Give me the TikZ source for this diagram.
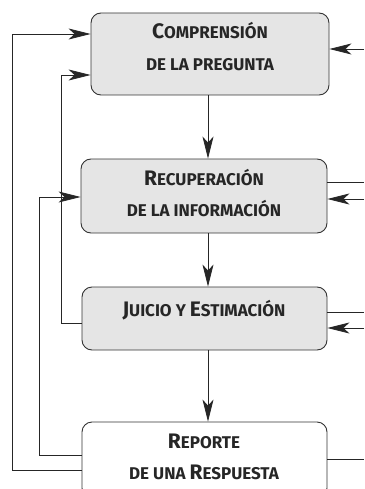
\documentclass[tikz,border=0pt]{standalone}
\usepackage{fontspec}
\setmainfont{Fira Sans}
\usetikzlibrary{arrows.meta}
\newcommand{\bigC}[1]{{\fontsize{21}{21}\selectfont #1}}
\newcommand{\smC}[1]{{\fontsize{17}{17}\selectfont #1}}
\begin{document}
\begin{tikzpicture}[x=1pt,y=-1pt,
  box/.style={draw=black!80, line width=0.9pt, rounded corners=10pt, inner sep=0pt},
  conn/.style={draw=black!85, line width=0.8pt},
  arr/.style={conn, -{Stealth[length=22pt,width=11pt,inset=6pt]}},
  lbl/.style={anchor=base, font=\bfseries, text=black!85, inner sep=0pt}]
\useasboundingbox (0,0) rectangle (364,489);
\begin{scope}
\clip (0,0) rectangle (364,489);
% boxes
\node[box, fill=black!10, minimum width=238pt, minimum height=82pt] (b1) at (210,54) {};
\node[box, fill=black!10, minimum width=246pt, minimum height=74pt] (b2) at (204,196) {};
\node[box, fill=black!10, minimum width=245pt, minimum height=63pt] (b3) at (204.5,318.5) {};
\node[box, fill=white, minimum width=245pt, minimum height=76pt] (b4) at (204.5,460) {};
% labels
\node[lbl] (t1a) at (210,39) {\bigC{C}\smC{OMPRENSIÓN}};
\node[lbl] (t1b) at (210,71) {\smC{DE LA PREGUNTA}};
\node[lbl] (t2a) at (204,185) {\bigC{R}\smC{ECUPERACIÓN}};
\node[lbl] (t2b) at (204,216) {\smC{DE LA INFORMACIÓN}};
\node[lbl] (t3a) at (204,316) {\bigC{J}\smC{UICIO Y }\bigC{E}\smC{STIMACIÓN}};
\node[lbl] (t4a) at (204,448) {\bigC{R}\smC{EPORTE}};
\node[lbl] (t4b) at (204,479) {\smC{DE UNA }\bigC{R}\smC{ESPUESTA}};
% free-end coordinates
\coordinate (v) at (208,0);
\coordinate (r1) at (364,49);
\coordinate (r2o) at (364,182);
\coordinate (r2i) at (364,199);
\coordinate (r3o) at (364,312);
\coordinate (r3i) at (364,328);
\coordinate (r4o) at (364,459);
% vertical arrows
\draw[arr] (b1.south -| v) -- (b2.north -| v);
\draw[arr] (b2.south -| v) -- (b3.north -| v);
\draw[arr] (b3.south -| v) -- (b4.north -| v);
% left feedback loops
\draw[arr] ([yshift=-10pt]b4.west) -- ++(-69,0) |- ([yshift=20pt]b1.west);
\draw[arr] ([yshift=5pt]b4.west) -- ++(-42,0) |- ([yshift=-1pt]b2.west);
\draw[arr] ([yshift=-4.5pt]b3.west) -- ++(-20,0) |- ([yshift=-21pt]b1.west);
% right side
\draw[arr] (r1) -- (b1.east |- r1);
\draw[conn] (b2.east |- r2o) -- (r2o);
\draw[arr] (r2i) -- (b2.east |- r2i);
\draw[conn] (b3.east |- r3o) -- (r3o);
\draw[arr] (r3i) -- (b3.east |- r3i);
\draw[conn] (b4.east |- r4o) -- (r4o);
\end{scope}
\end{tikzpicture}
\end{document}
